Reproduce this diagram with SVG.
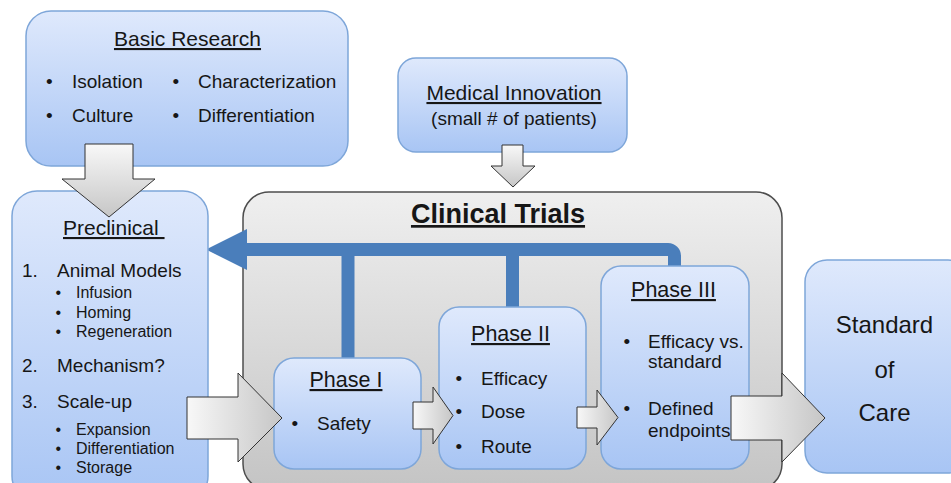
<svg xmlns="http://www.w3.org/2000/svg" width="951" height="483" viewBox="0 0 951 483">
  <defs>
    <linearGradient id="blueFill" x1="0" y1="0" x2="0" y2="1">
      <stop offset="0" stop-color="#dfe9fc"/>
      <stop offset="1" stop-color="#a8c5f4"/>
    </linearGradient>
    <linearGradient id="grayFill" x1="0" y1="0" x2="0" y2="1">
      <stop offset="0" stop-color="#efefef"/>
      <stop offset="1" stop-color="#c4c4c4"/>
    </linearGradient>
    <linearGradient id="arrowDown" x1="0" y1="0" x2="0" y2="1">
      <stop offset="0" stop-color="#f8f8f8"/>
      <stop offset="1" stop-color="#c6c6c6"/>
    </linearGradient>
    <linearGradient id="arrowRight" x1="0" y1="0" x2="1" y2="0">
      <stop offset="0" stop-color="#f8f8f8"/>
      <stop offset="1" stop-color="#c6c6c6"/>
    </linearGradient>
  </defs>
  <style>
    .box { fill: url(#blueFill); stroke: #7ea6d9; stroke-width: 1.5; }
    .gbox { fill: url(#grayFill); stroke: #4d4d4d; stroke-width: 1.5; }
    .ad { fill: url(#arrowDown); stroke: #333; stroke-width: 1; stroke-linejoin: miter; }
    .ar { fill: url(#arrowRight); stroke: #333; stroke-width: 1; stroke-linejoin: miter; }
    .fb { fill: none; stroke: #4a7ebb; stroke-width: 13; }
    text { font-family: "Liberation Sans", Arial, Helvetica, sans-serif; fill: #161616; }
    .t21 { font-size: 21px; text-decoration: underline; }
    .ph { font-size: 21.5px; text-decoration: underline; text-anchor: middle; }
    .b19 { font-size: 19px; }
    .b16 { font-size: 16px; }
    .soc { font-size: 24px; text-anchor: middle; }
    .ct { font-size: 27px; font-weight: bold; text-decoration: underline; text-anchor: middle; }
  </style>

  <g id="clinical-trials">
    <rect class="gbox" x="243" y="192" width="539" height="298" rx="26"/>
    <text class="ct" x="498" y="223">Clinical Trials</text>
  </g>

  <g id="feedback">
    <path class="fb" d="M 240 249.5 H 668 A 6.5 6.5 0 0 1 674.5 256 V 268"/>
    <path class="fb" d="M 348 249 V 359"/>
    <path class="fb" d="M 512.5 249 V 308"/>
    <polygon fill="#4a7ebb" points="206,249.5 247,229 247,270"/>
  </g>

  <g id="basic-research">
    <rect class="box" x="26" y="11" width="322" height="155" rx="25"/>
    <text class="t21" x="187.5" y="46" text-anchor="middle">Basic Research</text>
    <text class="b19" x="46" y="88">•</text>
    <text class="b19" x="72" y="88">Isolation</text>
    <text class="b19" x="46" y="122">•</text>
    <text class="b19" x="72" y="122">Culture</text>
    <text class="b19" x="172.5" y="88">•</text>
    <text class="b19" x="198" y="88">Characterization</text>
    <text class="b19" x="172.5" y="122">•</text>
    <text class="b19" x="198" y="122">Differentiation</text>
  </g>

  <g id="medical-innovation">
    <rect class="box" x="398" y="58" width="229" height="94" rx="18"/>
    <text class="t21" x="514" y="100" text-anchor="middle">Medical Innovation</text>
    <text class="b19" x="514" y="125" text-anchor="middle">(small # of patients)</text>
  </g>

  <g id="preclinical">
    <rect class="box" x="12" y="191" width="196" height="310" rx="25"/>
    <text class="t21" x="63" y="235">Preclinical&#160;</text>
    <text class="b19" x="22" y="277">1.</text>
    <text class="b19" x="57" y="277">Animal Models</text>
    <text class="b16" x="55.5" y="298">•</text>
    <text class="b16" x="76" y="298">Infusion</text>
    <text class="b16" x="55.5" y="318">•</text>
    <text class="b16" x="76" y="318">Homing</text>
    <text class="b16" x="55.5" y="337">•</text>
    <text class="b16" x="76" y="337">Regeneration</text>
    <text class="b19" x="22" y="372">2.</text>
    <text class="b19" x="57" y="372">Mechanism?</text>
    <text class="b19" x="22" y="408">3.</text>
    <text class="b19" x="57" y="408">Scale-up</text>
    <text class="b16" x="55.5" y="435">•</text>
    <text class="b16" x="76" y="435">Expansion</text>
    <text class="b16" x="55.5" y="454">•</text>
    <text class="b16" x="76" y="454">Differentiation</text>
    <text class="b16" x="55.5" y="473">•</text>
    <text class="b16" x="76" y="473">Storage</text>
  </g>

  <g id="phase-1">
    <rect class="box" x="274" y="358" width="147" height="111" rx="20"/>
    <text class="ph" x="346" y="387">Phase I</text>
    <text class="b19" x="291.5" y="430">•</text>
    <text class="b19" x="317" y="430">Safety</text>
  </g>

  <g id="phase-2">
    <rect class="box" x="439" y="307" width="147" height="162" rx="20"/>
    <text class="ph" x="510.5" y="341">Phase II</text>
    <text class="b19" x="455.5" y="385">•</text>
    <text class="b19" x="481" y="385">Efficacy</text>
    <text class="b19" x="455.5" y="418">•</text>
    <text class="b19" x="481" y="418">Dose</text>
    <text class="b19" x="455.5" y="453">•</text>
    <text class="b19" x="481" y="453">Route</text>
  </g>

  <g id="phase-3">
    <rect class="box" x="601" y="266" width="148" height="203" rx="20"/>
    <text class="ph" x="673.5" y="297">Phase III</text>
    <text class="b19" x="623.5" y="348">•</text>
    <text class="b19" x="648" y="348">Efficacy vs.</text>
    <text class="b19" x="648" y="368">standard</text>
    <text class="b19" x="623.5" y="415">•</text>
    <text class="b19" x="648" y="415">Defined</text>
    <text class="b19" x="648" y="437">endpoints</text>
  </g>

  <g id="standard-of-care">
    <rect class="box" x="805" y="260" width="165" height="213" rx="22"/>
    <text class="soc" x="884.5" y="333">Standard</text>
    <text class="soc" x="884.5" y="378">of</text>
    <text class="soc" x="884.5" y="421">Care</text>
  </g>

  <g id="connectors">
    <polygon class="ad" points="85,144 133,144 133,179 155,179 109,217 62,179 85,179"/>
    <polygon class="ad" points="502,145 523,145 523,166 535,166 513,187 491,166 502,166"/>
    <polygon class="ar" points="187,397 238,397 238,373 282,418 238,462 238,439 187,439"/>
    <polygon class="ar" points="413,402 433,402 433,387 453,415.5 433,444 433,429 413,429"/>
    <polygon class="ar" points="577,407 597,407 597,390 618,417.5 597,445 597,428 577,428"/>
    <polygon class="ar" points="731,396 782,396 782,373 825,418 782,462 782,440 731,440"/>
  </g>
</svg>
